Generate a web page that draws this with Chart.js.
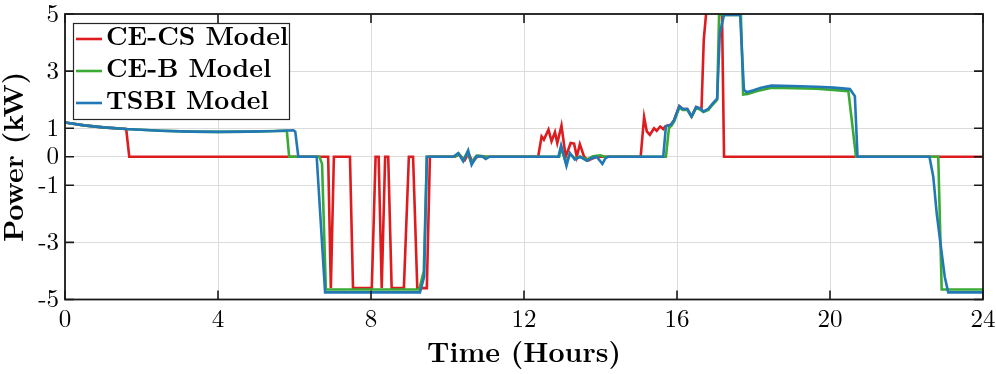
<!DOCTYPE html>
<html>
<head>
<meta charset="utf-8">
<script src="https://cdn.jsdelivr.net/npm/chart.js@4"></script>
<style>
  html, body { margin: 0; padding: 0; background: #fff; }
  #wrap { width: 996px; height: 374px; position: relative; }
</style>
</head>
<body>
<div id="wrap"><canvas id="power-chart"></canvas></div>
<script>
// time (h) / power (kW)
const cecsT = [0, 0.5, 1, 1.6, 1.68, 6.88, 6.95, 7.03, 7.45, 7.53, 8.02, 8.12, 8.2, 8.28, 8.37, 8.45, 8.54, 8.86, 8.99, 9.1,
  9.21, 9.46, 9.54, 10.2, 10.3, 10.45, 10.55, 10.65, 10.8, 11.0, 12.37, 12.46, 12.52, 12.64, 12.72, 12.81, 12.87, 12.98, 13.09, 13.22,
  13.31, 13.38, 13.46, 13.57, 13.68, 13.81, 13.9, 15.05, 15.14, 15.21, 15.29, 15.4, 15.47, 15.56, 15.64, 15.69, 15.73, 15.84, 15.92, 16.06,
  16.15, 16.27, 16.38, 16.5, 16.64, 16.7, 16.8, 17.17, 17.23, 24];
const cecsP = [1.2, 1.1, 1.03, 0.97, 0, 0, -4.6, 0, 0, -4.6, -4.6, 0, 0, -4.6, 0, 0, -4.6, -4.6, 0, 0,
  -4.6, -4.6, 0, 0, 0.08, -0.12, 0.12, -0.18, 0.03, 0, 0, 0.71, 0.6, 0.95, 0.54, 0.86, 0.48, 1.09, 0, 0.48,
  0.46, 0, 0.44, 0, -0.13, -0.05, 0, 0, 1.39, 0.89, 0.77, 1.0, 0.91, 1.06, 0.97, 1.06, 1.09, 1.12, 1.27, 1.77,
  1.67, 1.67, 1.41, 1.74, 1.65, 4.1, 5.6, 5.6, 0, 0];

const cebT = [0, 0.5, 1, 1.6, 2.5, 3.3, 4, 4.8, 5.5, 5.8, 5.86, 6.65, 6.72, 6.82, 9.26, 9.38, 9.46, 10.18, 10.3, 10.42,
  10.52, 10.62, 10.76, 10.92, 11.05, 12.92, 12.98, 13.1, 13.2, 13.33, 13.48, 13.64, 13.8, 14.0, 14.1, 15.71, 15.79, 15.86, 15.93, 16.06,
  16.15, 16.27, 16.38, 16.5, 16.6, 16.69, 16.82, 16.93, 17.05, 17.1, 17.67, 17.73, 17.85, 18.1, 18.47, 19.65, 20.48, 20.68, 22.83, 22.92, 24];
const cebP = [1.2, 1.1, 1.03, 0.97, 0.91, 0.88, 0.87, 0.88, 0.9, 0.91, 0, 0, -0.25, -4.65, -4.65, -4.0, 0, 0, 0.1, -0.1,
  0.15, -0.2, 0.04, 0.02, 0, 0, 0.3, -0.22, 0.1, -0.06, 0, -0.1, 0.02, 0.05, 0, 0, 1.0, 1.1, 1.25, 1.72,
  1.64, 1.64, 1.4, 1.7, 1.66, 1.57, 1.64, 1.82, 2.0, 4.97, 4.97, 2.18, 2.2, 2.3, 2.42, 2.38, 2.3, 0, 0, -4.65, -4.65];

const tsbiT = [0, 0.5, 1, 1.6, 2.5, 3.3, 4, 4.8, 5.5, 5.97, 6.02, 6.1, 6.58, 6.8, 9.28, 9.39, 9.46, 10.15, 10.28, 10.41,
  10.54, 10.63, 10.75, 10.9, 11.0, 11.1, 12.9, 12.97, 13.11, 13.2, 13.33, 13.46, 13.64, 13.77, 13.9, 14.05, 14.13, 14.2, 15.64, 15.71,
  15.84, 15.92, 16.06, 16.15, 16.27, 16.38, 16.5, 16.6, 16.69, 16.82, 16.93, 17.05, 17.12, 17.23, 17.65, 17.75, 17.82, 18.0, 18.2, 18.47,
  19.0, 19.65, 20.1, 20.52, 20.65, 20.72, 22.6, 22.7, 22.79, 22.92, 23.0, 23.09, 24];
const tsbiP = [1.2, 1.1, 1.03, 0.97, 0.91, 0.88, 0.87, 0.88, 0.9, 0.93, 0.88, 0, 0, -4.75, -4.75, -4.2, 0, 0, 0.13, -0.16,
  0.22, -0.28, 0, 0.02, -0.08, 0, 0, 0.4, -0.32, 0.13, -0.1, 0, -0.14, -0.05, 0, -0.25, -0.05, 0, 0, 1.06,
  1.12, 1.27, 1.77, 1.67, 1.67, 1.41, 1.74, 1.7, 1.59, 1.68, 1.86, 2.04, 4.34, 4.97, 4.97, 2.35, 2.26, 2.33, 2.42, 2.49,
  2.48, 2.45, 2.42, 2.37, 2.12, 0, 0, -0.7, -1.98, -3.37, -4.2, -4.75, -4.75];

const seriesNames = ['CE-CS Model', 'CE-B Model', 'TSBI Model'];
const seriesColors = ['#DD1C1F', '#3BAA35', '#2178B5'];
const yTicks = [-5, -3, -1, 0, 1, 3, 5];

const LM_FONT = '"Latin Modern Roman", "Liberation Serif", serif';
Chart.defaults.font.family = LM_FONT;
Chart.defaults.color = '#000';

const pts = (t, p) => t.map((v, i) => ({ x: v, y: p[i] }));

// black box + inward ticks + boxed legend, like the matlab figure
const framePlugin = {
  id: 'frame',
  afterDraw(chart) {
    const { ctx, chartArea: a, scales: { x, y } } = chart;
    ctx.save();
    ctx.strokeStyle = '#1a1a1a';
    ctx.lineWidth = 1.6;
    ctx.beginPath();
    x.ticks.forEach(t => {
      const px = x.getPixelForValue(t.value);
      ctx.moveTo(px, a.bottom); ctx.lineTo(px, a.bottom - 9);
      ctx.moveTo(px, a.top);    ctx.lineTo(px, a.top + 9);
    });
    y.ticks.forEach(t => {
      const py = y.getPixelForValue(t.value);
      ctx.moveTo(a.left, py);  ctx.lineTo(a.left + 9, py);
      ctx.moveTo(a.right, py); ctx.lineTo(a.right - 9, py);
    });
    ctx.stroke();
    ctx.lineWidth = 1.8;
    ctx.strokeRect(a.left, a.top, a.right - a.left, a.bottom - a.top);

    // legend
    const lx = 73.5, ly = 23.5, lw = 216, lh = 96;
    ctx.fillStyle = '#fff';
    ctx.fillRect(lx, ly, lw, lh);
    ctx.lineWidth = 1.2;
    ctx.strokeStyle = '#262626';
    ctx.strokeRect(lx, ly, lw, lh);
    ctx.font = 'bold 26px ' + LM_FONT;
    ctx.textBaseline = 'middle';
    ctx.fillStyle = '#000';
    seriesNames.forEach((name, i) => {
      const ry = 39 + i * 32;
      ctx.strokeStyle = seriesColors[i];
      ctx.lineWidth = 2.6;
      ctx.beginPath();
      ctx.moveTo(76, ry); ctx.lineTo(102, ry);
      ctx.stroke();
      ctx.fillText(name, 106, ry - 1.5);
    });
    ctx.restore();
  }
};

const series = [pts(cecsT, cecsP), pts(cebT, cebP), pts(tsbiT, tsbiP)];

new Chart(document.getElementById('power-chart'), {
  type: 'line',
  data: {
    datasets: series.map((d, i) => ({
      label: seriesNames[i],
      data: d,
      borderColor: seriesColors[i],
      backgroundColor: seriesColors[i],
      borderWidth: 2.6,
      pointRadius: 0,
      tension: 0,
      fill: false,
      clip: 0,
      order: 3 - i,
    })),
  },
  options: {
    responsive: true,
    maintainAspectRatio: false,
    animation: false,
    devicePixelRatio: 1,
    layout: { padding: { top: 14, right: 13, bottom: 0, left: 0 } },
    plugins: {
      legend: { display: false },
      tooltip: { enabled: false },
    },
    scales: {
      x: {
        type: 'linear',
        min: 0,
        max: 24,
        afterFit: s => { s.height = 74.5; s.paddingLeft = 0; s.paddingRight = 0; },
        ticks: {
          stepSize: 4,
          padding: 7,
          color: '#000',
          font: { family: LM_FONT, size: 25, lineHeight: 1 },
          maxRotation: 0,
        },
        grid: { color: '#dcdcdc', lineWidth: 1, drawTicks: false },
        border: { display: false },
        title: {
          display: true,
          text: 'Time (Hours)',
          color: '#000',
          font: { family: LM_FONT, size: 28, weight: 'bold', lineHeight: 1 },
          padding: { top: 0, bottom: 7 },
        },
      },
      y: {
        type: 'linear',
        min: -5,
        max: 5,
        afterFit: s => { s.width = 65; s.paddingTop = 0; s.paddingBottom = 0; },
        afterBuildTicks: s => { s.ticks = yTicks.map(v => ({ value: v })); },
        ticks: {
          padding: 6,
          color: '#000',
          font: { family: LM_FONT, size: 25, lineHeight: 1 },
        },
        grid: { color: '#dcdcdc', lineWidth: 1, drawTicks: false },
        border: { display: false },
        title: {
          display: true,
          text: 'Power (kW)',
          color: '#000',
          font: { family: LM_FONT, size: 28, weight: 'bold', lineHeight: 1 },
          padding: { top: 0, bottom: 0 },
        },
      },
    },
  },
  plugins: [framePlugin],
});
</script>
</body>
</html>
